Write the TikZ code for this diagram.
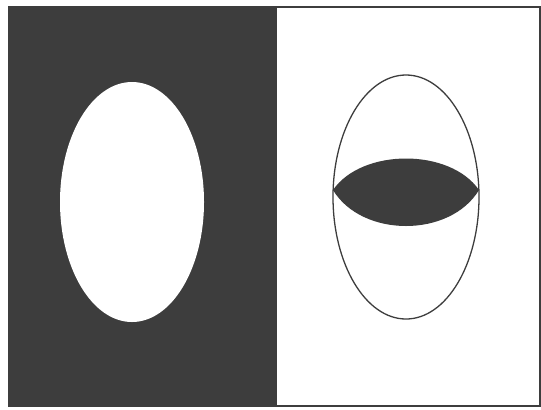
\documentclass[tikz,border=0pt]{standalone}
\begin{document}
\begin{tikzpicture}[x=0.03cm, y=-0.03cm]
  \definecolor{ink}{gray}{0.24}
  \useasboundingbox (0,0) rectangle (541,409);
  \fill[white] (0,0) rectangle (541,409);
  \fill[ink] (9,7) rectangle (277,406);
  \draw[ink, line width=1pt] (9,7) rectangle (540,406);
  \fill[white] (132,202) ellipse [x radius=72, y radius=120];
  \draw[ink, line width=1.1pt] (406,197) ellipse [x radius=73, y radius=122];
  \coordinate (tipL) at (333,190);
  \coordinate (tipR) at (479,190);
  \fill[ink] (tipL) .. controls (362,148) and (450,148) .. (tipR)
             .. controls (450,238) and (362,238) .. (tipL) -- cycle;
\end{tikzpicture}
\end{document}
